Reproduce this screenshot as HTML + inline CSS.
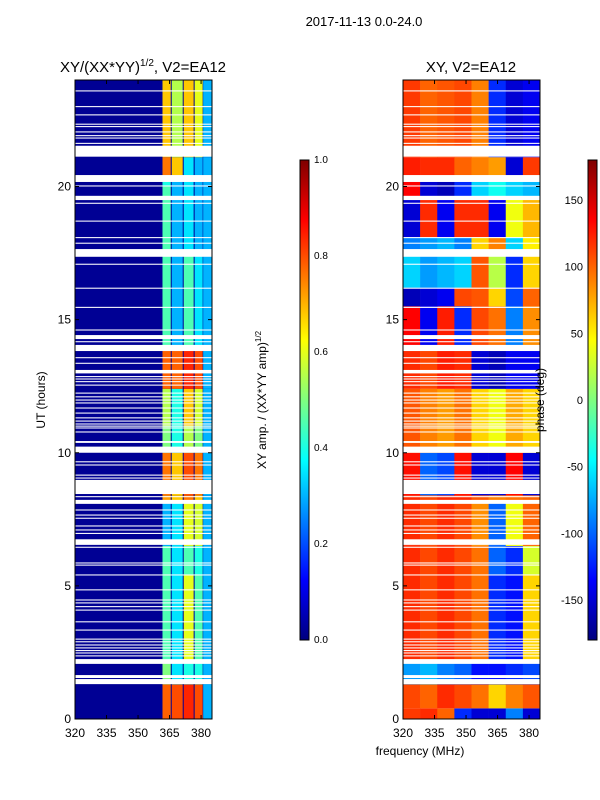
<!DOCTYPE html>
<html><head><meta charset="utf-8"><style>
body{margin:0;background:#fff;}
svg{display:block;font-family:"Liberation Sans",sans-serif;}
</style></head><body>
<svg id="fig" width="600" height="800" viewBox="0 0 600 800">
<rect width="600" height="800" fill="#fff"/>
<text x="364" y="26" font-size="13" text-anchor="middle">2017-11-13 0.0-24.0</text>
<text x="143" y="72" font-size="15" text-anchor="middle">XY/(XX*YY)<tspan font-size="10" dy="-6">1/2</tspan><tspan dy="6">, V2=EA12</tspan></text>
<text x="471" y="72" font-size="15" text-anchor="middle">XY, V2=EA12</text>
<g id="ampPlot"></g>
<g id="phasePlot"></g>
<g id="axes"></g>
<defs><linearGradient id="jet" x1="0" y1="1" x2="0" y2="0">
<stop offset="0" stop-color="#00007f"/><stop offset="0.125" stop-color="#0000ff"/><stop offset="0.375" stop-color="#00ffff"/><stop offset="0.625" stop-color="#ffff00"/><stop offset="0.875" stop-color="#ff0000"/><stop offset="1" stop-color="#7f0000"/></linearGradient></defs>
<rect x="300" y="160" width="9" height="480" fill="url(#jet)" stroke="#000" stroke-width="1"/>
<rect x="588" y="160" width="9" height="480" fill="url(#jet)" stroke="#000" stroke-width="1"/>
<text transform="translate(266,400) rotate(-90)" font-size="12" text-anchor="middle">XY amp. / (XX*YY amp)<tspan font-size="8" dy="-5">1/2</tspan></text>
<text transform="translate(544,400) rotate(-90)" font-size="12" text-anchor="middle">phase (deg)</text>
<text transform="translate(45,400) rotate(-90)" font-size="12" text-anchor="middle">UT (hours)</text>
<text x="420" y="755" font-size="12" text-anchor="middle">frequency (MHz)</text>
</svg>
<script>
const gaps=[[23.57,23.61],[22.98,23.02],[22.67,22.71],[22.32,22.36],[22.23,22.27],[22.03,22.07],[21.89,21.93],[21.80,21.84],[21.60,21.64],[21.12,21.53],[20.17,20.43],[20.00,20.04],[19.49,19.65],[19.35,19.39],[18.68,18.72],[18.06,18.10],[17.85,17.89],[17.36,17.65],[17.06,17.10],[16.16,16.20],[15.44,15.48],[14.59,14.63],[14.27,14.42],[14.15,14.19],[13.82,14.05],[13.55,13.59],[13.34,13.38],[12.98,13.11],[12.84,12.88],[12.75,12.79],[12.65,12.69],[12.52,12.56],[12.22,12.26],[12.08,12.12],[11.96,12.00],[11.85,11.89],[11.66,11.70],[11.47,11.51],[11.29,11.33],[11.17,11.21],[11.06,11.10],[10.98,11.02],[10.91,10.95],[10.76,10.80],[10.37,10.44],[10.00,10.23],[9.64,9.68],[9.52,9.56],[9.14,9.18],[9.03,9.07],[8.45,8.98],[8.33,8.37],[8.08,8.23],[7.83,7.87],[7.64,7.68],[7.52,7.56],[7.23,7.27],[7.08,7.12],[6.95,6.99],[6.54,6.75],[6.43,6.47],[5.84,5.88],[5.76,5.80],[5.39,5.43],[4.83,4.87],[4.45,4.49],[4.34,4.38],[4.20,4.24],[4.07,4.11],[3.63,3.67],[3.32,3.36],[2.98,3.02],[2.88,2.92],[2.76,2.80],[2.65,2.69],[2.55,2.59],[2.46,2.50],[2.35,2.39],[2.07,2.25],[1.54,1.65],[1.31,1.50]];
const ampStart=[0,1.3,2.1,5.4,6.5,8.1,8.4,10.0,11.0,12.4,13.9,17.4,20.0,20.4,21.1];
const ampEnd=[1.3,2.1,5.4,6.5,8.1,8.4,10.0,11.0,12.4,13.9,17.4,20.0,20.4,21.1,24];
const ampS1=[0.78,0.50,0.45,0.45,0.30,0.72,0.76,0.50,0.55,0.78,0.45,0.45,0.40,0.76,0.68];
const ampS2=[0.80,0.35,0.35,0.35,0.35,0.68,0.68,0.40,0.40,0.78,0.30,0.30,0.30,0.68,0.55];
const ampS3=[0.84,0.40,0.60,0.45,0.60,0.76,0.80,0.55,0.68,0.84,0.45,0.35,0.35,0.35,0.68];
const ampS4=[0.80,0.40,0.45,0.40,0.58,0.68,0.76,0.50,0.58,0.80,0.35,0.30,0.30,0.30,0.60];
const stripeEdges=[361.4,365.8,371.5,376.7,381.0];
const phStart=[0,0.4,1.3,2.1,5.4,6.5,8.1,8.4,10.0,12.4,13.9,15.5,16.2,17.4,18.1,19.5,20.4,21.1];
const phEnd=[0.4,1.3,2.1,5.4,6.5,8.1,8.4,10.0,12.4,13.9,15.5,16.2,17.4,18.1,19.5,20.4,21.1,24];
const phVals=[
[115,120,100,-120,-150,-150,-90,-150],
[110,100,120,110,95,60,90,105],
[-80,-70,-90,-100,-130,-130,-120,-110],
[120,110,120,110,95,-120,-130,60],
[120,110,120,110,95,-100,-120,30],
[120,110,120,110,85,-100,40,100],
[120,110,120,120,105,90,95,100],
[130,-100,-110,130,-150,-150,135,-150],
[105,90,80,95,60,40,75,60],
[120,110,125,120,-150,-160,-140,-140],
[135,-140,125,-120,110,95,-90,85],
[-160,-150,-140,110,105,60,-110,100],
[-60,-80,-70,-60,105,20,-120,60],
[-90,-80,-70,-90,60,90,-60,50],
[-150,120,-140,120,120,-140,40,70],
[135,-150,-160,-120,-60,-40,-60,-70],
[125,120,120,100,90,80,-150,115],
[115,100,105,110,90,-120,-150,-140]];
const xTicks=[320,335,350,365,380];
const yTicks=[0,5,10,15,20];
const ampTicks=[0,0.2,0.4,0.6,0.8,1.0];
const phTicks=[-150,-100,-50,0,50,100,150];

const NS="http://www.w3.org/2000/svg";
const fMin=320,fMax=385.2,tMin=0,tMax=24;
const yPix=t=>719-(t-tMin)/(tMax-tMin)*639;
const xL=f=>75+(f-fMin)/(fMax-fMin)*137;
const xR=f=>403+(f-fMin)/(fMax-fMin)*137;
function jet(v){v=Math.max(0,Math.min(1,v));
 const r=Math.max(0,Math.min(1,1.5-Math.abs(4*v-3))),g=Math.max(0,Math.min(1,1.5-Math.abs(4*v-2))),b=Math.max(0,Math.min(1,1.5-Math.abs(4*v-1)));
 return `rgb(${Math.round(r*255)},${Math.round(g*255)},${Math.round(b*255)})`;}
function rect(p,x,y,w,h,fill){const r=document.createElementNS(NS,'rect');r.setAttribute('x',x);r.setAttribute('y',y);r.setAttribute('width',w);r.setAttribute('height',h);r.setAttribute('fill',fill);p.appendChild(r);return r;}
const amp=document.getElementById('ampPlot'),ph=document.getElementById('phasePlot'),ax=document.getElementById('axes');
const bg=rect(amp,xL(fMin),yPix(tMax),xL(fMax)-xL(fMin),yPix(tMin)-yPix(tMax),jet(0.02));


const S=[ampS1,ampS2,ampS3,ampS4];
for(let i=0;i<ampStart.length;i++){
 for(let k=0;k<4;k++){
  const c=rect(amp,xL(stripeEdges[k])+0.5,yPix(ampEnd[i]),xL(stripeEdges[k+1])-xL(stripeEdges[k])-1,yPix(ampStart[i])-yPix(ampEnd[i]),jet(S[k][i]));
  
  
 }
 const c2=rect(amp,xL(stripeEdges[4]),yPix(ampEnd[i]),xL(fMax)-xL(stripeEdges[4]),yPix(ampStart[i])-yPix(ampEnd[i]),jet(0.3));
 
 
}
const bw=(fMax-fMin)/8;
for(let i=0;i<phStart.length;i++){
 for(let k=0;k<8;k++){
  const c=rect(ph,xR(fMin+k*bw),yPix(phEnd[i]),xR(fMin+(k+1)*bw)-xR(fMin+k*bw)+0.3,yPix(phStart[i])-yPix(phEnd[i]),jet((phVals[i][k]+180)/360));
  
  
 }
}
for(const g of gaps){
 const a=rect(amp,75,yPix(g[1]),137,Math.max(1,yPix(g[0])-yPix(g[1])),'#fff');
 
 
 const b=rect(ph,403,yPix(g[1]),137,Math.max(1,yPix(g[0])-yPix(g[1])),'#fff');
 
 
}
function line(x1,y1,x2,y2){const l=document.createElementNS(NS,'line');l.setAttribute('x1',x1);l.setAttribute('y1',y1);l.setAttribute('x2',x2);l.setAttribute('y2',y2);l.setAttribute('stroke','#000');ax.appendChild(l);return l;}
function text(x,y,s,anchor){const t=document.createElementNS(NS,'text');t.setAttribute('x',x);t.setAttribute('y',y);t.setAttribute('font-size','12');t.setAttribute('text-anchor',anchor);t.textContent=s;ax.appendChild(t);return t;}
for(const [x0,fx] of [[75,xL],[403,xR]]){
 const fr=rect(ax,x0,80,137,639,'none');fr.setAttribute('stroke','#000');
 
 
 for(const f of xTicks){const x=fx(f);line(x,719,x,715);line(x,80,x,84);
  const t=text(x,737,String(f),'middle');
  
  }
 for(const v of yTicks){const y=yPix(v);line(x0,y,x0+4,y);line(x0+137,y,x0+133,y);
  const t=text(x0-4,y+4,String(v),'end');
  
  }
}
for(const v of ampTicks){const y=640-v*480;line(300,y,304,y);line(309,y,305,y);
 const t=text(314,y+3,v.toFixed(1),'start');t.setAttribute('font-size','10');
 
 }
for(const v of phTicks){const y=640-(v+180)/360*480;line(588,y,592,y);line(597,y,593,y);
 const t=text(583,y+4,String(v),'end');t.setAttribute('font-size','11');
 
 }
</script>
</body></html>
